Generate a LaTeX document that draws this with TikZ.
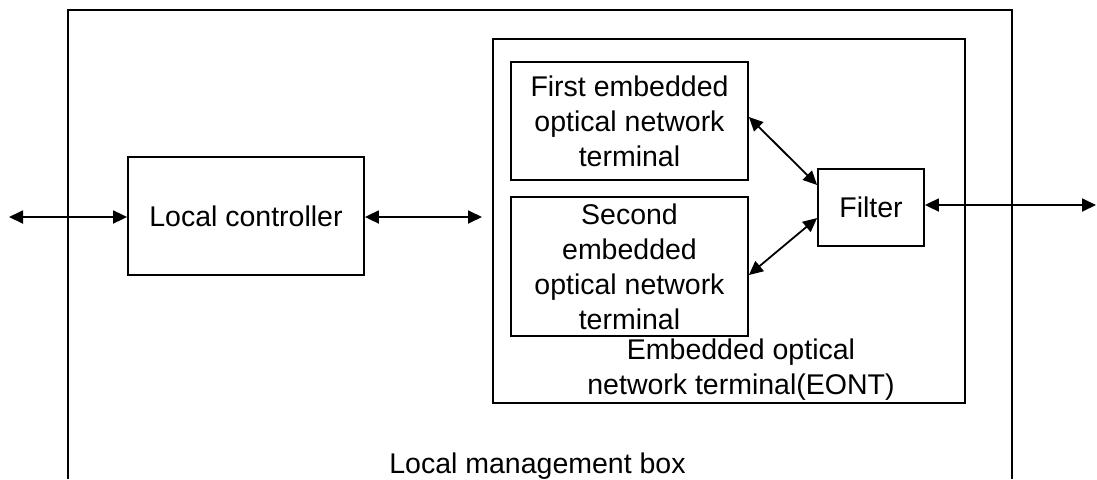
\documentclass[tikz,border=0pt]{standalone}
\usepackage{fontspec}
\setmainfont{Liberation Sans}
\usetikzlibrary{arrows.meta}
\begin{document}
\begin{tikzpicture}[x=1pt,y=-1pt,
  every node/.style={font=\fontsize{28.5}{35}\selectfont},
  blk/.style={draw,line width=1.8pt,inner sep=0pt,align=center},
  link/.style={line width=1.8pt,{Triangle[length=14pt,width=13pt]}-{Triangle[length=14pt,width=13pt]}},
  frame/.style={line width=1.8pt}]
\useasboundingbox (0,0) rectangle (1097,479);
% outer local management box (open at bottom)
\draw[frame] (68,479) -- (68,10) -- (1012,10) -- (1012,479);
\node[anchor=base] (lmb) at (537.5,473) {Local management box};
% EONT box
\draw[frame] (493,39) rectangle (965,403);
\node[align=center] (eontlbl) at (741,370) {Embedded optical\\network terminal(EONT)};
% blocks
\node[blk,minimum width=236pt,minimum height=118pt] (lc) at (246,216) {Local controller};
\node[blk,minimum width=237pt,minimum height=118pt] (first) at (629.5,121) {First embedded\\optical network\\terminal};
\node[blk,minimum width=237pt,minimum height=139pt] (second) at (629.5,266.5) {Second\\embedded\\optical network\\terminal};
\node[blk,minimum width=106pt,minimum height=77pt] (filter) at (871,207.5) {Filter};
% free ends
\coordinate (leftend) at (9,217);
\coordinate (eontin) at (482,217);
\coordinate (rightend) at (1096,205);
% connectors
\draw[link] (leftend) -- (lc.west |- leftend);
\draw[link] (lc.east |- eontin) -- (eontin);
\draw[link] (first.east |- 0,117) -- (filter.west |- 0,185);
\draw[link] (second.east |- 0,275) -- (filter.west |- 0,218);
\draw[link] (filter.east |- rightend) -- (rightend);
\end{tikzpicture}
\end{document}
